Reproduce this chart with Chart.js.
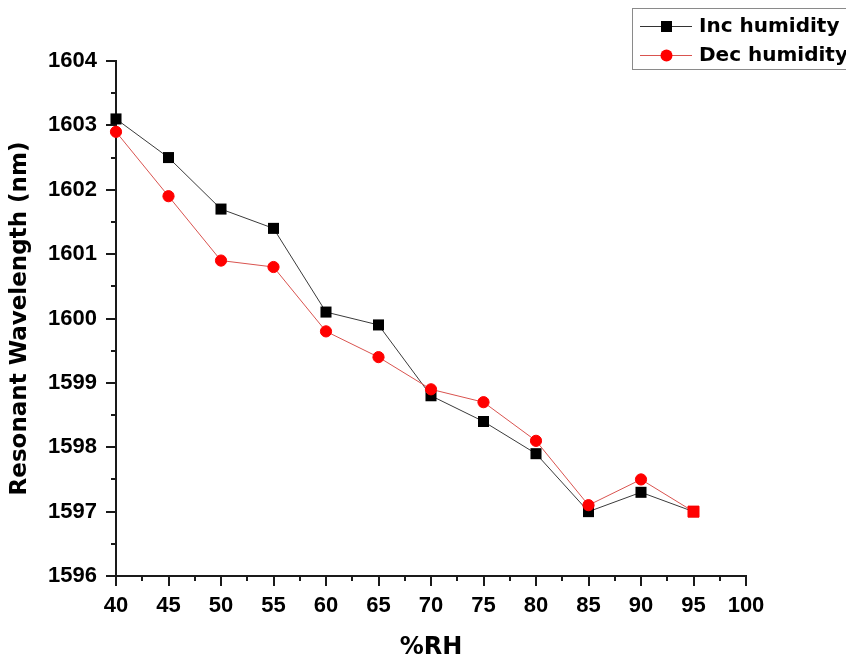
<!DOCTYPE html>
<html>
<head>
<meta charset="utf-8">
<script src="https://cdn.jsdelivr.net/npm/chart.js@4/dist/chart.umd.min.js"></script>
<style>
  html, body { margin: 0; padding: 0; background: #fff; }
  #wrap { width: 846px; height: 657px; }
</style>
</head>
<body>
<div id="wrap"><canvas id="c" width="846" height="657"></canvas></div>
<script>
// Relative humidity (%RH) steps
const humidity = [40, 45, 50, 55, 60, 65, 70, 75, 80, 85, 90, 95];
// Resonant wavelength (nm) while humidity increases
const incHumidity = [1603.1, 1602.5, 1601.7, 1601.4, 1600.1, 1599.9, 1598.8, 1598.4, 1597.9, 1597.0, 1597.3, 1597.0];
// Resonant wavelength (nm) while humidity decreases
const decHumidity = [1602.9, 1601.9, 1600.9, 1600.8, 1599.8, 1599.4, 1598.9, 1598.7, 1598.1, 1597.1, 1597.5, 1597.0];
// Axis ranges
const xRange = [40, 100];
const yRange = [1596, 1604];
const seriesNames = ['Inc humidity', 'Dec humidity'];

const AXIS = '#1a1a1a';
const TICK_FONT = { family: '"Liberation Sans", Arial, sans-serif', size: 22, weight: 'bold' };
const TITLE_FONT = { family: '"DejaVu Sans", Verdana, sans-serif', size: 23, weight: 'bold', lineHeight: 1 };

const toPoints = ys => humidity.map((x, i) => ({ x, y: ys[i] }));

// Outward major + minor tick marks, like a classic plotting package
const tickMarks = {
  id: 'tickMarks',
  beforeDatasetsDraw(chart) {
    const ctx = chart.ctx;
    const xs = chart.scales.x, ys = chart.scales.y;
    ctx.save();
    ctx.strokeStyle = AXIS;
    ctx.lineWidth = 2;
    ctx.beginPath();
    const yb = ys.getPixelForValue(yRange[0]);
    for (let v = xRange[0]; v <= xRange[1] + 1e-9; v += 2.5) {
      const px = Math.round(xs.getPixelForValue(v));
      const len = (Math.abs(v % 5) < 1e-9) ? 10 : 5;
      ctx.moveTo(px, yb); ctx.lineTo(px, yb + len);
    }
    const xl = xs.getPixelForValue(xRange[0]);
    for (let v = yRange[0]; v <= yRange[1] + 1e-9; v += 0.5) {
      const py = Math.round(ys.getPixelForValue(v));
      const len = (Math.abs(v % 1) < 1e-9) ? 10 : 5;
      ctx.moveTo(xl, py); ctx.lineTo(xl - len, py);
    }
    ctx.stroke();
    ctx.restore();
  }
};

// Boxed legend in the top-right corner
const boxLegend = {
  id: 'boxLegend',
  afterDraw(chart) {
    const ctx = chart.ctx;
    ctx.save();
    ctx.strokeStyle = '#8a8a8a';
    ctx.lineWidth = 1;
    ctx.strokeRect(632.5, 8.5, 230, 61);
    const rows = [
      { y: 26, line: '#333333', fill: '#000000', style: 'rect' },
      { y: 55, line: '#d9534f', fill: '#ff0000', style: 'circle' }
    ];
    rows.forEach((r, i) => {
      ctx.strokeStyle = r.line;
      ctx.lineWidth = 1;
      ctx.beginPath();
      ctx.moveTo(640, r.y + 0.5); ctx.lineTo(692, r.y + 0.5);
      ctx.stroke();
      ctx.fillStyle = r.fill;
      if (r.style === 'rect') {
        ctx.fillRect(661, r.y - 5, 11, 11);
      } else {
        ctx.beginPath();
        ctx.arc(666.5, r.y + 0.5, 6, 0, Math.PI * 2);
        ctx.fill();
      }
      ctx.fillStyle = '#000';
      ctx.font = 'bold 20px "DejaVu Sans", Verdana, sans-serif';
      ctx.textBaseline = 'middle';
      ctx.textAlign = 'left';
      ctx.fillText(seriesNames[i], 699, r.y + 1);
    });
    ctx.restore();
  }
};

new Chart(document.getElementById('c'), {
  type: 'line',
  data: {
    datasets: [
      {
        label: seriesNames[0],
        data: toPoints(incHumidity),
        borderColor: '#3a3a3a',
        borderWidth: 1,
        backgroundColor: '#000000',
        pointStyle: 'rect',
        pointRadius: 7.8,
        pointBorderWidth: 0,
        pointBackgroundColor: '#000000',
        pointBorderColor: '#000000',
        tension: 0,
        clip: false,
        order: 2
      },
      {
        label: seriesNames[1],
        data: toPoints(decHumidity),
        borderColor: '#d9534f',
        borderWidth: 1,
        backgroundColor: '#ff0000',
        pointStyle: humidity.map((h, i) => i === humidity.length - 1 ? 'rect' : 'circle'),
        pointRadius: humidity.map((h, i) => i === humidity.length - 1 ? 7.8 : 5.6),
        pointBorderWidth: 1,
        pointBackgroundColor: '#ff0000',
        pointBorderColor: '#ff0000',
        tension: 0,
        clip: false,
        order: 1
      }
    ]
  },
  options: {
    responsive: false,
    animation: false,
    devicePixelRatio: 1,
    layout: { padding: { top: 61, right: 100, left: 0, bottom: 0 } },
    plugins: { legend: { display: false }, tooltip: { enabled: false } },
    scales: {
      x: {
        type: 'linear',
        min: xRange[0], max: xRange[1],
        afterFit: s => { s.height = 81; },
        grid: { display: false },
        border: { display: true, color: AXIS, width: 2 },
        ticks: { stepSize: 5, color: '#000', font: TICK_FONT, padding: 9, maxRotation: 0,
                 callback: v => String(v) },
        title: { display: true, text: '%RH', color: '#000', font: { ...TITLE_FONT, size: 24, lineHeight: 0.75 }, padding: { top: 0, bottom: 0 } }
      },
      y: {
        type: 'linear',
        min: yRange[0], max: yRange[1],
        afterFit: s => { s.width = 116; },
        grid: { display: false },
        border: { display: true, color: AXIS, width: 2 },
        ticks: { stepSize: 1, color: '#000', font: TICK_FONT, padding: 11,
                 callback: v => String(v) },
        title: { display: true, text: 'Resonant Wavelength (nm)', color: '#000', font: TITLE_FONT, padding: { top: 9, bottom: 0 } }
      }
    }
  },
  plugins: [tickMarks, boxLegend]
});
</script>
</body>
</html>
